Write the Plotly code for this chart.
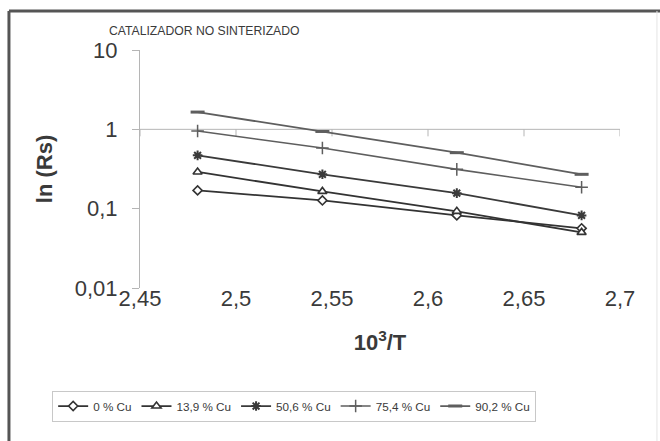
import plotly.graph_objects as go

# 10^3/T for the four measured temperatures
inv_t = [2.480, 2.545, 2.615, 2.680]

# ln(Rs) per copper loading
rs_0 = [0.170, 0.127, 0.0823, 0.0565]
rs_13_9 = [0.290, 0.165, 0.0925, 0.0502]
rs_50_6 = [0.470, 0.271, 0.157, 0.0823]
rs_75_4 = [0.952, 0.581, 0.313, 0.186]
rs_90_2 = [1.65, 0.94, 0.508, 0.271]

series_names = ["0 % Cu", "13,9 % Cu", "50,6 % Cu", "75,4 % Cu", "90,2 % Cu"]

x_ticks = [2.45, 2.5, 2.55, 2.6, 2.65, 2.7]
x_tick_text = ["2,45", "2,5", "2,55", "2,6", "2,65", "2,7"]
y_ticks = [0.01, 0.1, 1, 10]
y_tick_text = ["0,01", "0,1", "1", "10"]

FONT = "Liberation Sans, Arial, sans-serif"
TXT = "#3a3a3a"

# filled white shapes for diamond/triangle, open line symbols for the rest
styles = [
    dict(symbol="diamond", size=7, color="#333333", fill="white", lw=1.8, mlw=1.6),
    dict(symbol="triangle-up", size=8, color="#333333", fill="white", lw=1.8, mlw=1.6),
    dict(symbol="asterisk-open", size=8, color="#3a3a3a", fill="#3a3a3a", lw=1.8, mlw=2),
    dict(symbol="cross-thin-open", size=9, color="#5e5e5e", fill="#5e5e5e", lw=1.6, mlw=1.5),
    dict(symbol="line-ew-open", size=10, color="#5e5e5e", fill="#5e5e5e", lw=1.8, mlw=3),
]

fig = go.Figure()
for name, ys, st in zip(series_names, [rs_0, rs_13_9, rs_50_6, rs_75_4, rs_90_2], styles):
    fig.add_trace(go.Scatter(
        x=inv_t, y=ys, name=name, mode="lines+markers",
        line=dict(color=st["color"], width=st["lw"]),
        marker=dict(symbol=st["symbol"], size=st["size"], color=st["fill"],
                    line=dict(color=st["color"], width=st["mlw"])),
    ))

# horizontal axis line crossing at ln(Rs) = 1, with its tick marks
y_one = 2 / 3  # position of 1 on the 0.01..10 log axis, as a fraction of the domain
fig.add_shape(type="line", xref="x", yref="y domain", x0=2.45, x1=2.7,
              y0=y_one, y1=y_one, line=dict(color="#b5b5b5", width=1), layer="below")
for xv in x_ticks:
    fig.add_shape(type="line", xref="x", yref="y domain", x0=xv, x1=xv,
                  ysizemode="pixel", yanchor=y_one, y0=0, y1=-7,
                  line=dict(color="#b5b5b5", width=1), layer="below")

# outer chart frame
fig.add_shape(type="line", xref="paper", yref="paper", x0=-0.273, x1=1.09,
              y0=1.164, y1=1.164, line=dict(color="#555555", width=3))
fig.add_shape(type="line", xref="paper", yref="paper", x0=-0.273, x1=-0.273,
              y0=1.164, y1=-0.7, line=dict(color="#555555", width=3))
fig.add_shape(type="line", xref="paper", yref="paper", x0=1.077, x1=1.077,
              y0=1.164, y1=-0.7, line=dict(color="#e4e4e4", width=1))

fig.add_annotation(text="CATALIZADOR NO SINTERIZADO", xref="paper", yref="paper",
                   x=-0.069, y=1.08, xanchor="left", yanchor="middle", showarrow=False,
                   font=dict(family=FONT, size=12.2, color=TXT))

fig.update_layout(
    width=660, height=441,
    margin=dict(l=140, r=40, t=50, b=153),
    paper_bgcolor="white", plot_bgcolor="white",
    font=dict(family=FONT, color=TXT),
    showlegend=True,
    legend=dict(orientation="h", x=-0.183, y=-0.496, xanchor="left", yanchor="middle",
                bordercolor="#c8c8c8", borderwidth=1, bgcolor="white",
                font=dict(family=FONT, size=11.7, color=TXT),
                itemwidth=30, tracegroupgap=0),
    xaxis=dict(range=[2.45, 2.7], tickvals=x_ticks, ticktext=x_tick_text,
               showgrid=False, zeroline=False, showline=False, ticks="",
               ticklabelstandoff=-5,
               tickfont=dict(family=FONT, size=22, color=TXT),
               title=dict(text="<b>10<sup>3</sup>/T</b>", standoff=24,
                          font=dict(family=FONT, size=22, color=TXT))),
    yaxis=dict(type="log", range=[-2, 1], tickvals=y_ticks, ticktext=y_tick_text,
               showgrid=False, zeroline=False, showline=True, linecolor="#b5b5b5",
               linewidth=1, ticks="outside", ticklen=7, tickcolor="#b5b5b5",
               ticklabelstandoff=10,
               tickfont=dict(family=FONT, size=22, color=TXT),
               title=dict(text="<b>ln (Rs)</b>", standoff=16,
                          font=dict(family=FONT, size=22, color=TXT))),
)

fig.write_html("out.html")
